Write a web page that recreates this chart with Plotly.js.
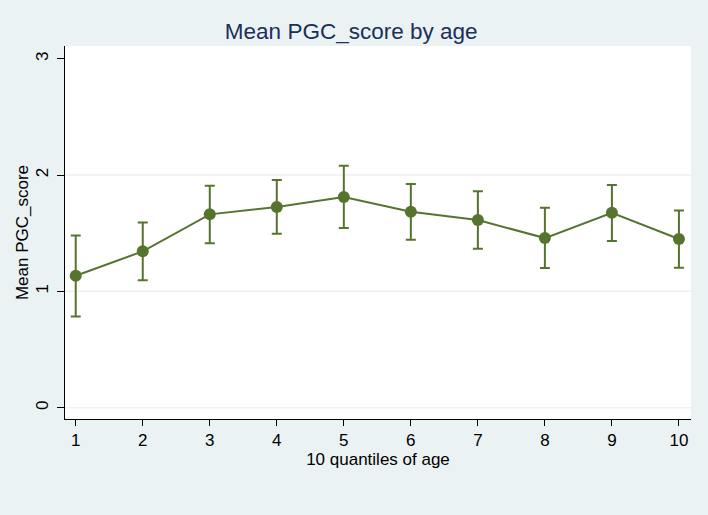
<!DOCTYPE html>
<html>
<head>
<meta charset="utf-8">
<script src="https://cdn.plot.ly/plotly-3.0.1.min.js"></script>
<style>
  html, body { margin: 0; padding: 0; background: #eaf2f3; }
  #chart { width: 708px; height: 515px; }
</style>
</head>
<body>
<div id="chart"></div>
<script>
// age quantile groups
var quantiles = [1, 2, 3, 4, 5, 6, 7, 8, 9, 10];
// mean PGC_score per group, with upper / lower CI bounds
var meanScore = [1.134, 1.344, 1.662, 1.725, 1.811, 1.685, 1.613, 1.458, 1.676, 1.450];
var upperCI   = [1.481, 1.593, 1.908, 1.957, 2.080, 1.923, 1.860, 1.719, 1.914, 1.696];
var lowerCI   = [0.785, 1.095, 1.413, 1.495, 1.544, 1.444, 1.367, 1.200, 1.432, 1.203];

var yTicks = [0, 1, 2, 3];
var gridVals = [0, 1, 2];

var green = '#55752f';
var bg = '#eaf2f3';

var errPlus = upperCI.map(function (u, i) { return u - meanScore[i]; });
var errMinus = lowerCI.map(function (l, i) { return meanScore[i] - l; });

var data = [
    {
        type: 'scatter',
        x: quantiles,
        y: meanScore,
        mode: 'lines+markers',
        line: { color: green, width: 2 },
        marker: { color: green, size: 12 },
        error_y: {
            type: 'data',
            symmetric: false,
            array: errPlus,
            arrayminus: errMinus,
            color: green,
            thickness: 2,
            width: 5
        },
        showlegend: false,
        hoverinfo: 'x+y'
    }
];

// light grid lines only at 0, 1, 2 (as in the original)
var shapes = gridVals.map(function (v) {
    return {
        type: 'line', xref: 'paper', yref: 'y',
        x0: 0, x1: 1, y0: v, y1: v,
        line: { color: bg, width: 1.5 },
        layer: 'below'
    };
});

var font = 'Liberation Sans, Arial, Helvetica, sans-serif';

var layout = {
    width: 708,
    height: 515,
    paper_bgcolor: bg,
    plot_bgcolor: '#ffffff',
    margin: { l: 65, r: 17, t: 46, b: 96 },
    font: { family: font, color: '#000000', size: 17 },
    title: {
        text: 'Mean PGC_score by age',
        font: { family: font, size: 22.5, color: '#1a2f5a' },
        x: 0.496,
        xref: 'container',
        xanchor: 'center',
        y: 1 - 31 / 515,
        yref: 'container',
        yanchor: 'middle'
    },
    xaxis: {
        range: [0.84, 10.18],
        tickvals: quantiles,
        ticks: 'outside',
        ticklen: 6,
        tickwidth: 1,
        tickcolor: '#000',
        showgrid: false,
        zeroline: false,
        showline: true,
        linecolor: '#000',
        linewidth: 1,
        tickfont: { size: 17 },
        title: { text: '10 quantiles of age', font: { size: 17 }, standoff: 0 }
    },
    yaxis: {
        range: [-0.097, 3.109],
        tickvals: yTicks,
        ticks: 'outside',
        ticklen: 7,
        tickwidth: 1,
        tickcolor: '#000',
        tickangle: -90,
        ticklabelstandoff: 2,
        showgrid: false,
        zeroline: false,
        showline: true,
        linecolor: '#000',
        linewidth: 1,
        tickfont: { size: 17 },
        title: { text: 'Mean PGC_score', font: { size: 17 }, standoff: 0 }
    },
    shapes: shapes
};

Plotly.newPlot('chart', data, layout, { displayModeBar: false, staticPlot: true });
</script>
</body>
</html>
